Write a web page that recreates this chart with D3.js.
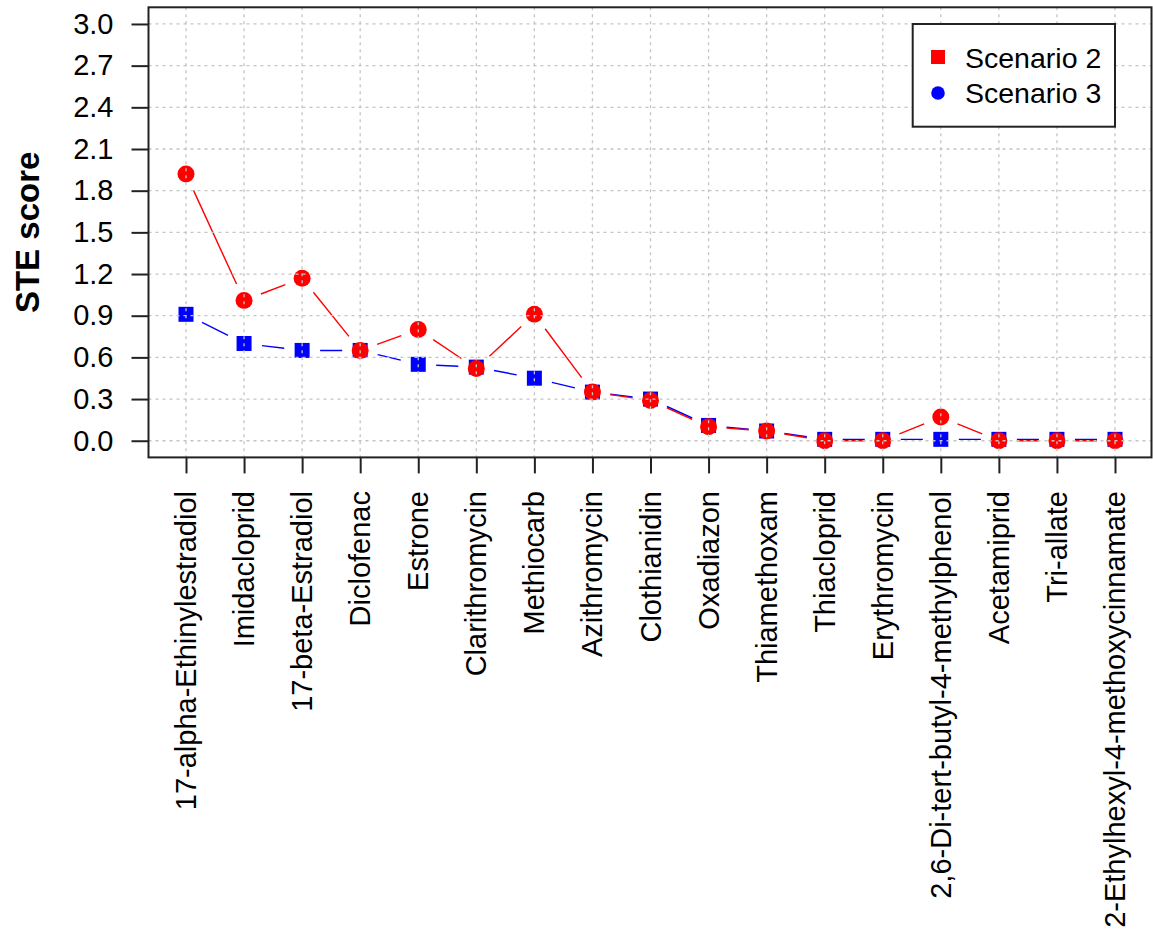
<!DOCTYPE html>
<html>
<head>
<meta charset="utf-8">
<script src="https://cdn.jsdelivr.net/npm/d3@7"></script>
<style>
  html, body { margin: 0; padding: 0; background: #fff; }
  svg { display: block; font-family: "Liberation Sans", Arial, sans-serif; }
</style>
</head>
<body>
<svg id="chart" width="1153" height="931"></svg>
<script>
const categories = [
  "17-alpha-Ethinylestradiol", "Imidacloprid", "17-beta-Estradiol", "Diclofenac",
  "Estrone", "Clarithromycin", "Methiocarb", "Azithromycin", "Clothianidin",
  "Oxadiazon", "Thiamethoxam", "Thiacloprid", "Erythromycin",
  "2,6-Di-tert-butyl-4-methylphenol", "Acetamiprid", "Tri-allate",
  "2-Ethylhexyl-4-methoxycinnamate"
];
const scenario2 = [1.92, 1.01, 1.17, 0.65, 0.80, 0.52, 0.91, 0.35, 0.29, 0.10, 0.07, 0.00, 0.00, 0.17, 0.00, 0.00, 0.00];
const scenario3 = [0.91, 0.70, 0.65, 0.65, 0.55, 0.53, 0.45, 0.35, 0.30, 0.11, 0.07, 0.01, 0.01, 0.01, 0.01, 0.01, 0.01];
const yTicks = [0.0, 0.3, 0.6, 0.9, 1.2, 1.5, 1.8, 2.1, 2.4, 2.7, 3.0];
const legendLabels = ["Scenario 2", "Scenario 3"];
const yLabel = "STE score";

const svg = d3.select("#chart");
const L = 148.5, R = 1151.5, T = 7.3, B = 457.4;
const FONT = 29;

const x = d3.scalePoint().domain(categories).range([186, 1115]);
const y = d3.scaleLinear().domain([-0.12, 3.12]).range([B, T]);

svg.append("defs").append("clipPath").attr("id", "clip")
  .append("rect").attr("x", L).attr("y", T).attr("width", R - L).attr("height", B - T);

const plot = svg.append("g").attr("clip-path", "url(#clip)");

function drawSeries(vals, color, shape) {
  const pts = vals.map((v, i) => [x(categories[i]), y(v)]);
  const gap = 18;
  const segs = [];
  for (let i = 0; i < pts.length - 1; i++) {
    const [x0, y0] = pts[i], [x1, y1] = pts[i + 1];
    const d = Math.hypot(x1 - x0, y1 - y0);
    if (d > 2 * gap) {
      const ux = (x1 - x0) / d, uy = (y1 - y0) / d;
      segs.push([x0 + ux * gap, y0 + uy * gap, x1 - ux * gap, y1 - uy * gap]);
    }
  }
  plot.append("g").selectAll("line").data(segs).join("line")
    .attr("x1", d => d[0]).attr("y1", d => d[1])
    .attr("x2", d => d[2]).attr("y2", d => d[3])
    .attr("stroke", color).attr("stroke-width", 1.4);
  const g = plot.append("g");
  if (shape === "square") {
    g.selectAll("rect").data(pts).join("rect")
      .attr("x", d => d[0] - 7.5).attr("y", d => d[1] - 7.5)
      .attr("width", 15).attr("height", 15).attr("fill", color);
  } else {
    g.selectAll("circle").data(pts).join("circle")
      .attr("cx", d => d[0]).attr("cy", d => d[1]).attr("r", 8.5).attr("fill", color);
  }
}

drawSeries(scenario3, "#0000FF", "square");
drawSeries(scenario2, "#FF0000", "circle");

// grid on top
const grid = svg.append("g").attr("stroke", "#c4c4c4").attr("stroke-width", 1.3)
  .attr("stroke-dasharray", "3,4");
grid.selectAll("line.h").data(yTicks).join("line").attr("class", "h")
  .attr("x1", L).attr("x2", R).attr("y1", d => y(d)).attr("y2", d => y(d));
grid.selectAll("line.v").data(categories).join("line").attr("class", "v")
  .attr("x1", d => x(d)).attr("x2", d => x(d)).attr("y1", T).attr("y2", B);

// frame
svg.append("rect").attr("x", L).attr("y", T).attr("width", R - L).attr("height", B - T)
  .attr("fill", "none").attr("stroke", "#222").attr("stroke-width", 2);

// y axis
const yAxis = d3.axisLeft(y).tickValues(yTicks).tickFormat(d3.format(".1f"))
  .tickSize(17).tickPadding(18);
const gy = svg.append("g").attr("transform", `translate(${L},0)`).call(yAxis);
gy.select(".domain").remove();
gy.selectAll(".tick line").attr("stroke", "#222").attr("stroke-width", 2);
gy.selectAll(".tick text").attr("font-size", FONT).attr("fill", "#000")
  .attr("font-family", "Liberation Sans, Arial, sans-serif");

// x axis
const xAxis = d3.axisBottom(x).tickSize(16).tickFormat("");
const gx = svg.append("g").attr("transform", `translate(0,${B})`).call(xAxis);
gx.select(".domain").remove();
gx.selectAll(".tick line").attr("stroke", "#222").attr("stroke-width", 2);
svg.append("g").selectAll("text").data(categories).join("text")
  .attr("transform", d => `translate(${x(d) + 10},${491}) rotate(-90)`)
  .attr("text-anchor", "end")
  .attr("font-size", FONT)
  .attr("fill", "#000")
  .text(d => d);

// y label
svg.append("text")
  .attr("transform", `translate(39,${(T + B) / 2}) rotate(-90)`)
  .attr("text-anchor", "middle")
  .attr("font-size", 33).attr("font-weight", "bold").attr("fill", "#000")
  .text(yLabel);

// legend
const lg = svg.append("g");
lg.append("rect").attr("x", 912.7).attr("y", 24).attr("width", 202.3).attr("height", 102.7)
  .attr("fill", "#fff").attr("stroke", "#222").attr("stroke-width", 2);
lg.append("rect").attr("x", 931).attr("y", 50).attr("width", 14).attr("height", 14).attr("fill", "#FF0000");
lg.append("circle").attr("cx", 938).attr("cy", 93).attr("r", 6.8).attr("fill", "#0000FF");
lg.selectAll("text").data(legendLabels).join("text")
  .attr("x", 965).attr("y", (d, i) => 67.5 + i * 35.5)
  .attr("font-size", 28.5).attr("fill", "#000")
  .text(d => d);
</script>
</body>
</html>
